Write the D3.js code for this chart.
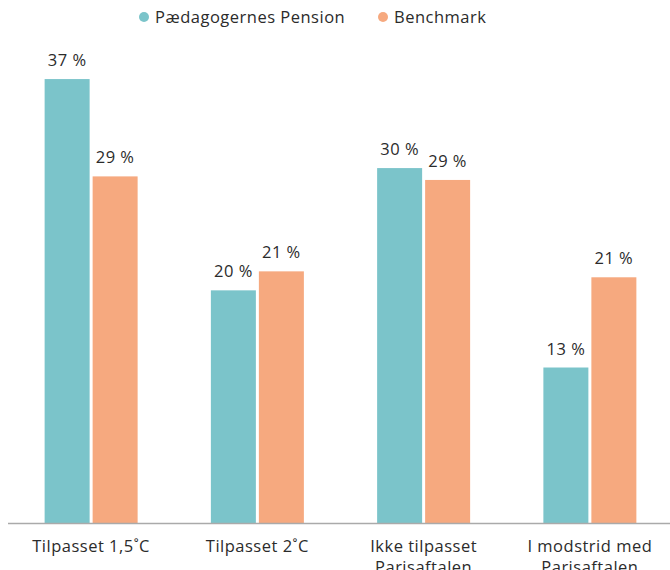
<!DOCTYPE html>
<html>
<head>
<meta charset="utf-8">
<script src="https://cdn.jsdelivr.net/npm/d3@7"></script>
<style>
  body { margin: 0; background: #fff; }
  text { font-family: "Open Sans", sans-serif; fill: #2b2b2b; letter-spacing: 0.5px; }
</style>
</head>
<body>
<div id="chart"></div>
<script>
// Data

var categories = [["Tilpasset 1,5˚C"], ["Tilpasset 2˚C"], ["Ikke tilpasset", "Parisaftalen"], ["I modstrid med", "Parisaftalen"]];
var seriesNames = ["Pædagogernes Pension", "Benchmark"];
var pension = [37.4, 19.6, 29.9, 13.1];
var benchmark = [29.2, 21.2, 28.9, 20.7];

var colors = ["#7BC4CA", "#F6A97F"];

var width = 670,
	height = 570,
	baseY = 523;

var svg = d3.select("#chart").append("svg")
	.attr("width", width)
	.attr("height", height);

var x = d3.scaleBand().domain(d3.range(categories.length)).range([8, 673]);
var y = d3.scaleLinear().domain([0, 40]).range([baseY, baseY - 11.87 * 40]);

var barW = 45, gap = 3;

var rows = d3.range(categories.length).map(function(i){
	return [{s:0, v:pension[i], i:i}, {s:1, v:benchmark[i], i:i}];
});

var groups = svg.selectAll(".grp").data(rows).enter().append("g")
	.attr("class", "grp")
	.attr("transform", function(d, i){ return "translate(" + (x(i) + x.bandwidth() / 2) + ",0)"; });

function bx(d){ return d.s == 0 ? -barW - gap / 2 : gap / 2; }

groups.selectAll("rect").data(function(d){ return d; }).enter().append("rect")
	.attr("x", bx)
	.attr("width", barW)
	.attr("y", function(d){ return y(d.v); })
	.attr("height", function(d){ return baseY - y(d.v); })
	.style("fill", function(d){ return colors[d.s]; });

groups.selectAll(".val").data(function(d){ return d; }).enter().append("text")
	.attr("class", "val")
	.attr("x", function(d){ return bx(d) + barW / 2; })
	.attr("y", function(d){ return y(d.v) - 13; })
	.attr("text-anchor", "middle")
	.style("font-size", "16.5px")
	.text(function(d){ return Math.round(d.v) + " %"; });

// axis line
svg.append("line")
	.attr("x1", 8).attr("x2", width)
	.attr("y1", baseY + 0.5).attr("y2", baseY + 0.5)
	.style("stroke", "#aaa").style("stroke-width", 1.5);

// category labels
var cl = svg.selectAll(".cat").data(categories).enter().append("text")
	.attr("class", "cat")
	.attr("x", function(d, i){ return x(i) + x.bandwidth() / 2; })
	.attr("y", 552)
	.attr("text-anchor", "middle")
	.style("font-size", "16.5px");
cl.selectAll("tspan").data(function(d){ return d; }).enter().append("tspan")
	.attr("x", function(){ return d3.select(this.parentNode).attr("x"); })
	.attr("dy", function(d, j){ return j == 0 ? 0 : 21; })
	.text(function(d){ return d; });

// legend
var legX = [144, 383];
var leg = svg.selectAll(".leg").data(seriesNames).enter().append("g")
	.attr("class", "leg")
	.attr("transform", function(d, i){ return "translate(" + legX[i] + ",17)"; });
leg.append("circle").attr("r", 5).style("fill", function(d, i){ return colors[i]; });
leg.append("text").attr("x", 11).attr("y", 6)
	.style("font-size", "16.5px")
	.text(function(d){ return d; });
</script>
</body>
</html>
